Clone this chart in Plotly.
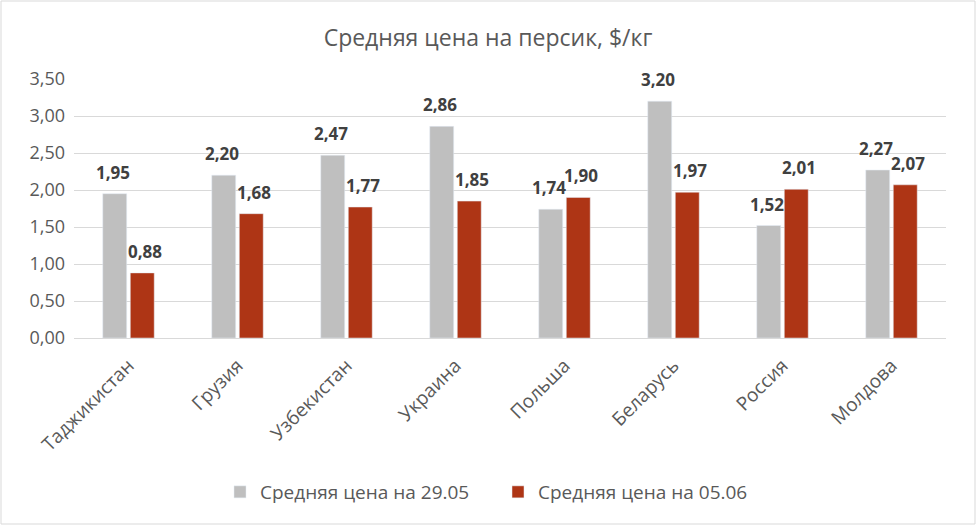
import plotly.graph_objects as go

countries = ["Таджикистан", "Грузия", "Узбекистан", "Украина", "Польша", "Беларусь", "Россия", "Молдова"]
price_2905 = [1.95, 2.20, 2.47, 2.86, 1.74, 3.20, 1.52, 2.27]
price_0506 = [0.88, 1.68, 1.77, 1.85, 1.90, 1.97, 2.01, 2.07]
series_names = ["Средняя цена на 29.05", "Средняя цена на 05.06"]
y_ticks = [0, 0.5, 1.0, 1.5, 2.0, 2.5, 3.0, 3.5]

FONT = "Open Sans"
colors = ["#bfbfbf", "#ae3515"]
fig = go.Figure()
for name, vals, col in zip(series_names, [price_2905, price_0506], colors):
    fig.add_trace(go.Bar(x=countries, y=vals, name=name, marker_color=col))

def fmt(v):
    return f"{v:.2f}".replace(".", ",")

annotations = []
for vals, shift in [(price_2905, -16), (price_0506, 16)]:
    for c, v in zip(countries, vals):
        annotations.append(dict(x=c, y=v, text=f"<b>{fmt(v)}</b>", showarrow=False,
                                xshift=shift, yshift=8, yanchor="bottom",
                                font=dict(family=FONT, size=17, color="#404040")))

fig.update_layout(
    width=976, height=526,
    margin=dict(l=74, r=30, t=79, b=188),
    paper_bgcolor="white", plot_bgcolor="white",
    separators=", ",
    bargap=0.495, bargroupgap=0.13,
    title=dict(text="Средняя цена на персик, $/кг", x=0.5, xanchor="center", y=1 - 38 / 526, yanchor="middle",
               font=dict(family=FONT, size=23, color="#595959")),
    font=dict(family=FONT, color="#595959"),
    legend=dict(orientation="h", x=0.5 - 12 / 872, xanchor="center", y=(338 - 492) / 259, yanchor="middle",
                font=dict(family=FONT, size=19, color="#595959"), entrywidth=233),
    yaxis=dict(range=[0, 3.5], tickvals=y_ticks, tickformat=".2f", showgrid=True, gridcolor="#d9d9d9",
               gridwidth=1, zeroline=False, showline=False, tickfont=dict(family=FONT, size=18, color="#595959"),
               ticks="", ticklabelstandoff=8),
    xaxis=dict(tickangle=-45, showline=True, linecolor="#d9d9d9", linewidth=1,
               tickfont=dict(family=FONT, size=19, color="#595959"), ticks="", ticklabelstandoff=8),
    annotations=annotations,
    shapes=[dict(type="rect", xref="paper", yref="paper",
                 x0=(1 - 74) / 872, x1=(975 - 74) / 872, y0=(338 - 524) / 259, y1=(338 - 1) / 259,
                 line=dict(color="#d9d9d9", width=1), fillcolor="rgba(0,0,0,0)", layer="below")],
)
fig.write_html("out.html", config={"displayModeBar": False},
               post_script="document.body.style.margin='0';")
